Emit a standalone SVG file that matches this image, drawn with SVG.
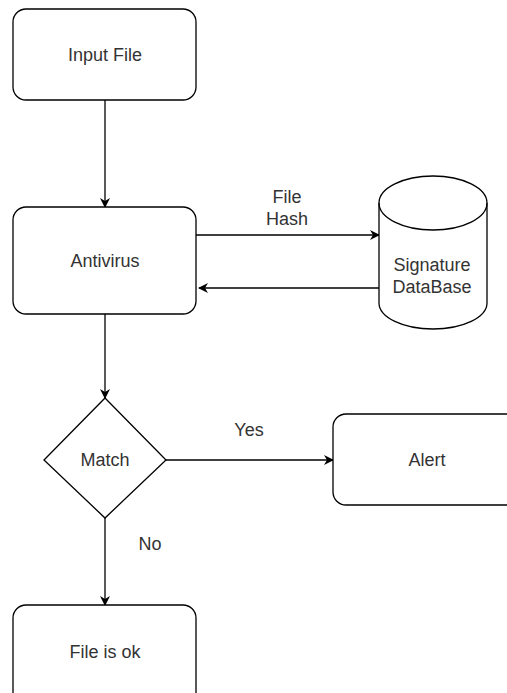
<svg xmlns="http://www.w3.org/2000/svg" width="507" height="693" viewBox="0 0 507 693">
<style>
.n{fill:#fff;stroke:#000;stroke-width:1.3}
.t{font-family:"Liberation Sans",Arial,sans-serif;font-size:18px;fill:#333;text-anchor:middle;dominant-baseline:central}
.c{fill:none;stroke:#000;stroke-width:1.3}
</style>
<defs>
<marker id="ah" viewBox="0 0 10 10" refX="9" refY="5" markerWidth="10" markerHeight="10" markerUnits="userSpaceOnUse" orient="auto">
<path d="M0,0 L10,5 L0,10 L3,5 Z" fill="#000"/>
</marker>
</defs>
<rect width="507" height="693" fill="#fff"/>
<g id="connectors">
<line class="c" x1="105" y1="100" x2="105" y2="207" marker-end="url(#ah)"/>
<line class="c" x1="196" y1="235" x2="379" y2="235" marker-end="url(#ah)"/>
<line class="c" x1="379" y1="288" x2="199" y2="288" marker-end="url(#ah)"/>
<line class="c" x1="105" y1="314" x2="105" y2="398" marker-end="url(#ah)"/>
<line class="c" x1="166" y1="460" x2="333" y2="460" marker-end="url(#ah)"/>
<line class="c" x1="105" y1="518" x2="105" y2="605" marker-end="url(#ah)"/>
<text class="t" x="287" y="197">File</text>
<text class="t" x="287" y="219">Hash</text>
<text class="t" x="249" y="430">Yes</text>
<text class="t" x="150" y="544">No</text>
</g>
<g id="input-file">
<rect class="n" x="13" y="9" width="183" height="91" rx="13"/>
<text class="t" x="105" y="55">Input File</text>
</g>
<g id="antivirus">
<rect class="n" x="13" y="207" width="183" height="107" rx="13"/>
<text class="t" x="105" y="261">Antivirus</text>
</g>
<g id="signature-db">
<path class="n" d="M379,203 A54,27 0 0 1 487,203 L487,303 A54,26 0 0 1 379,303 Z"/>
<path class="c" d="M379,203 A54,27 0 0 0 487,203"/>
<text class="t" x="432" y="265">Signature</text>
<text class="t" x="432" y="287">DataBase</text>
</g>
<g id="match">
<polygon class="n" points="105,398 166,460 105,518 44,460"/>
<text class="t" x="105" y="460">Match</text>
</g>
<g id="alert">
<rect class="n" x="333" y="414" width="188" height="91" rx="13"/>
<text class="t" x="427" y="460">Alert</text>
</g>
<g id="file-ok">
<rect class="n" x="13" y="605" width="183" height="100" rx="13"/>
<text class="t" x="105" y="652">File is ok</text>
</g>
</svg>
